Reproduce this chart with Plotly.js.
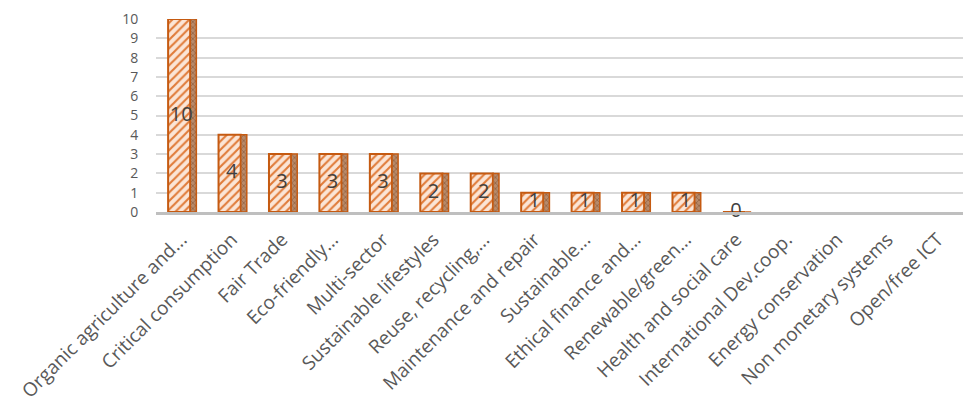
<!DOCTYPE html>
<html>
<head>
<meta charset="utf-8">
<script src="https://cdn.plot.ly/plotly-3.0.1.min.js"></script>
<style>html,body{margin:0;padding:0;background:#fff;}#chart{width:965px;height:412px;}</style>
</head>
<body>
<div id="chart"></div>
<script>
const categories = [
  "Organic agriculture and...", "Critical consumption", "Fair Trade", "Eco-friendly...",
  "Multi-sector", "Sustainable lifestyles", "Reuse, recycling,...", "Maintenance and repair",
  "Sustainable...", "Ethical finance and...", "Renewable/green...", "Health and social care",
  "International Dev.coop.", "Energy conservation", "Non monetary systems", "Open/free ICT"
];
const values = [10, 4, 3, 3, 3, 2, 2, 1, 1, 1, 1, 0, null, null, null, null];
const yTicks = [0,1,2,3,4,5,6,7,8,9,10];

const labelY = values.map(v => v === null ? null : v / 2);
const labelText = values.map(v => v === null ? "" : String(v));

const bars = {
  type: "bar",
  x: categories,
  y: values,
  width: 0.44,
  offset: -0.26,
  marker: {
    color: "#fbe5d6",
    line: {color: "#c55a11", width: 2},
    pattern: {shape: "/", bgcolor: "#fbe5d6", fgcolor: "#e07b39", size: 6, solidity: 0.35}
  },
  hoverinfo: "x+y",
  showlegend: false
};
const sides = {
  type: "bar",
  x: categories,
  y: values,
  width: 0.12,
  offset: 0.18,
  marker: {
    color: "#c9a68c",
    line: {color: "#c55a11", width: 1.5},
    pattern: {shape: "x", bgcolor: "#b88a6a", fgcolor: "#8a5a3a", size: 4, solidity: 0.3}
  },
  hoverinfo: "skip",
  showlegend: false
};
const labels = {
  type: "scatter",
  mode: "text",
  x: categories,
  y: labelY,
  text: labelText,
  textfont: {family: "Open Sans, sans-serif", size: 20, color: "#404040"},
  cliponaxis: false,
  hoverinfo: "skip",
  showlegend: false
};

const layout = {
  width: 965, height: 412,
  margin: {l: 156, r: 2, t: 19, b: 200},
  paper_bgcolor: "#ffffff",
  plot_bgcolor: "#ffffff",
  font: {family: "Open Sans, sans-serif", color: "#595959"},
  barmode: "overlay",
  xaxis: {
    type: "category",
    tickangle: -45,
    tickfont: {size: 19, color: "#595959"},
    ticks: "outside", ticklen: 6, tickcolor: "rgba(0,0,0,0)",
    showline: true, linecolor: "#bfbfbf", linewidth: 3,
    showgrid: false, zeroline: false,
    range: [-0.5, 15.5]
  },
  yaxis: {
    range: [0, 10],
    tickvals: yTicks,
    ticktext: yTicks.map(String),
    tickfont: {size: 14, color: "#595959"},
    ticks: "outside", ticklen: 14, tickcolor: "rgba(0,0,0,0)",
    showgrid: true, gridcolor: "#d9d9d9", gridwidth: 2,
    zeroline: false, showline: false
  }
};

Plotly.newPlot("chart", [bars, sides, labels], layout, {displayModeBar: false, staticPlot: true});
</script>
</body>
</html>
